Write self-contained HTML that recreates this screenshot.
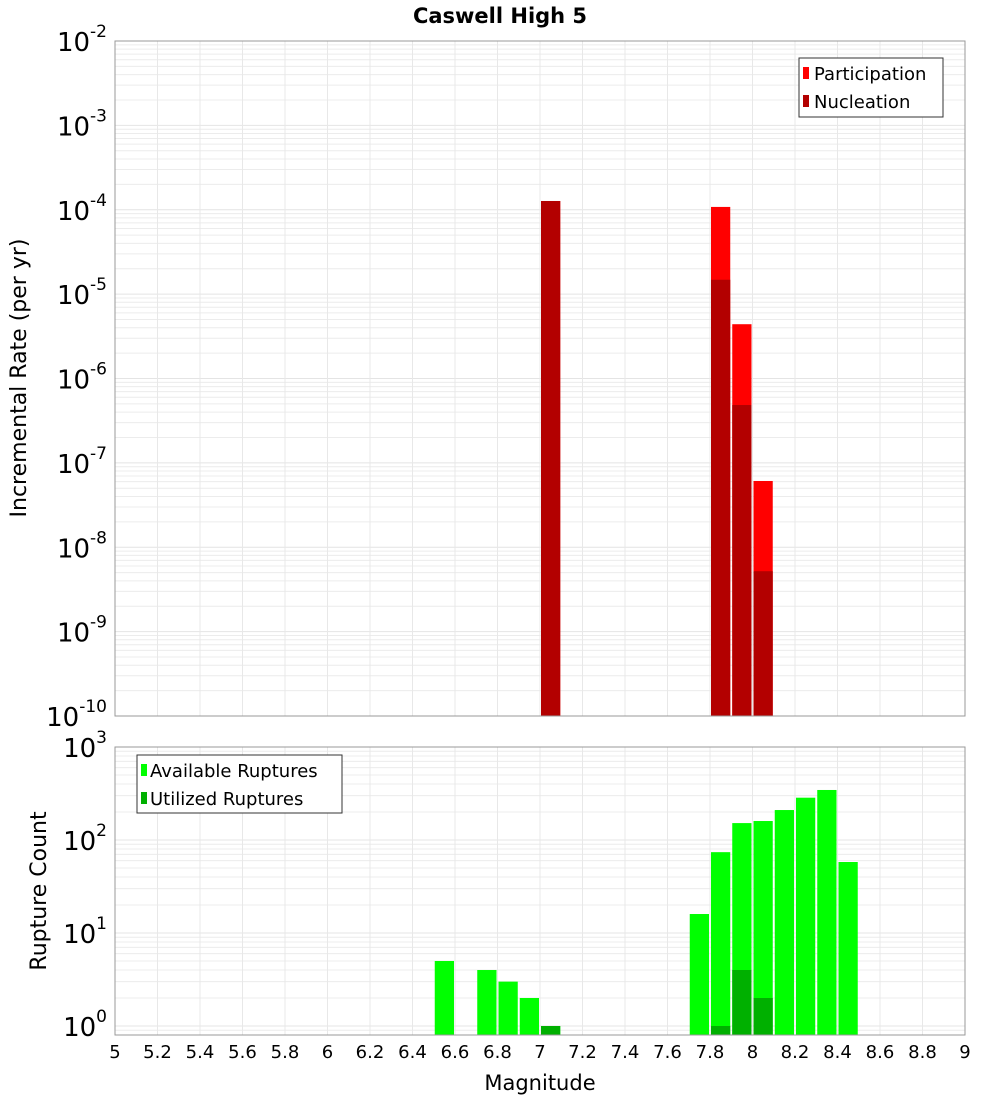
<!DOCTYPE html>
<html><head><meta charset="utf-8"><style>
body{margin:0;background:#fff;font-family:"DejaVu Sans","Liberation Sans",sans-serif}
</style></head><body>
<svg id="c" width="1000" height="1100" xmlns="http://www.w3.org/2000/svg" style="font-family:'DejaVu Sans','Liberation Sans',sans-serif">
<text x="500" y="23" text-anchor="middle" font-size="21" font-weight="bold">Caswell High 5</text>
<g id="top"></g><g id="bot"></g>
<text transform="translate(26,378) rotate(-90)" text-anchor="middle" font-size="22">Incremental Rate (per yr)</text>
<text transform="translate(46,891) rotate(-90)" text-anchor="middle" font-size="22">Rupture Count</text>
<text x="540" y="1090" text-anchor="middle" font-size="21">Magnitude</text>
<g>
<rect x="799" y="58" width="144" height="59" fill="#fff" stroke="#333"/>
<rect x="803" y="67" width="6" height="12" fill="#ff0000"/><text x="814" y="80" font-size="18">Participation</text>
<rect x="803" y="95" width="6" height="12" fill="#b30000"/><text x="814" y="108" font-size="18">Nucleation</text>
</g>
<g>
<rect x="137" y="755" width="205" height="58" fill="#fff" stroke="#333"/>
<rect x="141" y="764" width="6" height="12" fill="#00ff00"/><text x="150" y="777" font-size="18">Available Ruptures</text>
<rect x="141" y="792" width="6" height="12" fill="#00b000"/><text x="150" y="805" font-size="18">Utilized Ruptures</text>
</g>
</svg>
<script>
const mags=[7.05,7.85,7.95,8.05];
const participation=[1.27e-4,1.08e-4,4.4e-6,6.1e-8];
const nucleation=[1.27e-4,1.48e-5,4.85e-7,5.2e-9];
const botMags=[6.55,6.75,6.85,6.95,7.05,7.75,7.85,7.95,8.05,8.15,8.25,8.35,8.45];
const available=[5,4,3,2,1,16,74,152,160,210,285,345,58];
const utilMags=[7.05,7.85,7.95,8.05];
const utilized=[1,1,4,2];
const xTicks=[5,5.2,5.4,5.6,5.8,6,6.2,6.4,6.6,6.8,7,7.2,7.4,7.6,7.8,8,8.2,8.4,8.6,8.8,9];
const topExp=[-10,-9,-8,-7,-6,-5,-4,-3,-2];
const botExp=[0,1,2,3];
const NS="http://www.w3.org/2000/svg";
const X0=115,X1=965;
const x=m=>X0+(m-5)/4*(X1-X0);
const yT=v=>41+(-2-Math.log10(v))*84.375;
const yB=v=>1026-Math.log10(v)*93;
function mk(p,t,a){const e=document.createElementNS(NS,t);for(const k in a)e.setAttribute(k,a[k]);p.appendChild(e);return e;}
function panel(g,top,bot,yf,lo,hi,exps,name){
  const fr=mk(g,'rect',{x:X0,y:top,width:X1-X0,height:bot-top,fill:'#fff'});
  
  
  for(let e=lo;e<hi;e++)for(let k=1;k<10;k++){const yy=yf(k*Math.pow(10,e));if(yy<top||yy>bot)continue;
    const l=mk(g,'line',{x1:X0,x2:X1,y1:yy,y2:yy,stroke:k==1?'#e4e4e4':'#ececec','stroke-width':1});
    
    }
  xTicks.forEach(t=>{const l=mk(g,'line',{x1:x(t),x2:x(t),y1:top,y2:bot,stroke:'#e8e8e8'});
    
    });
  exps.forEach(e=>{const yy=yf(Math.pow(10,e));const t=mk(g,'text',{x:X0-8,y:yy+10,'text-anchor':'end','font-size':26});
    
    
    t.textContent='10';const s=mk(t,'tspan',{dy:-14,'font-size':17});s.textContent=String(e);});
}
const gt=document.getElementById('top'),gb=document.getElementById('bot');
panel(gt,41,716,yT,-10,-2,topExp,'top');
panel(gb,747,1035,yB,-1,3,botExp,'bottom');
function bar(g,m,v,yf,base,col,name){const x0=x(m-0.05)+1,x1=x(m+0.05)-1;const yy=Math.max(yf(v),0);
  const r=mk(g,'rect',{x:x0,y:yy,width:x1-x0,height:base-yy,fill:col});
  
  }
mags.forEach((m,i)=>bar(gt,m,participation[i],yT,716,'#ff0000','participation-bar'));
mags.forEach((m,i)=>bar(gt,m,nucleation[i],yT,716,'#b30000','nucleation-bar'));
botMags.forEach((m,i)=>bar(gb,m,available[i],yB,1035,'#00ff00','available-bar'));
utilMags.forEach((m,i)=>bar(gb,m,utilized[i],yB,1035,'#00b000','utilized-bar'));
[[41,716],[747,1035]].forEach(([a,b])=>{const r=mk(gb,'rect',{x:X0,y:a,width:X1-X0,height:b-a,fill:'none',stroke:'#999'});
  
  });
xTicks.forEach(t=>{const tx=mk(gb,'text',{x:x(t),y:1058,'text-anchor':'middle','font-size':18});
  
  
  tx.textContent=String(t);});
</script>
</body></html>
